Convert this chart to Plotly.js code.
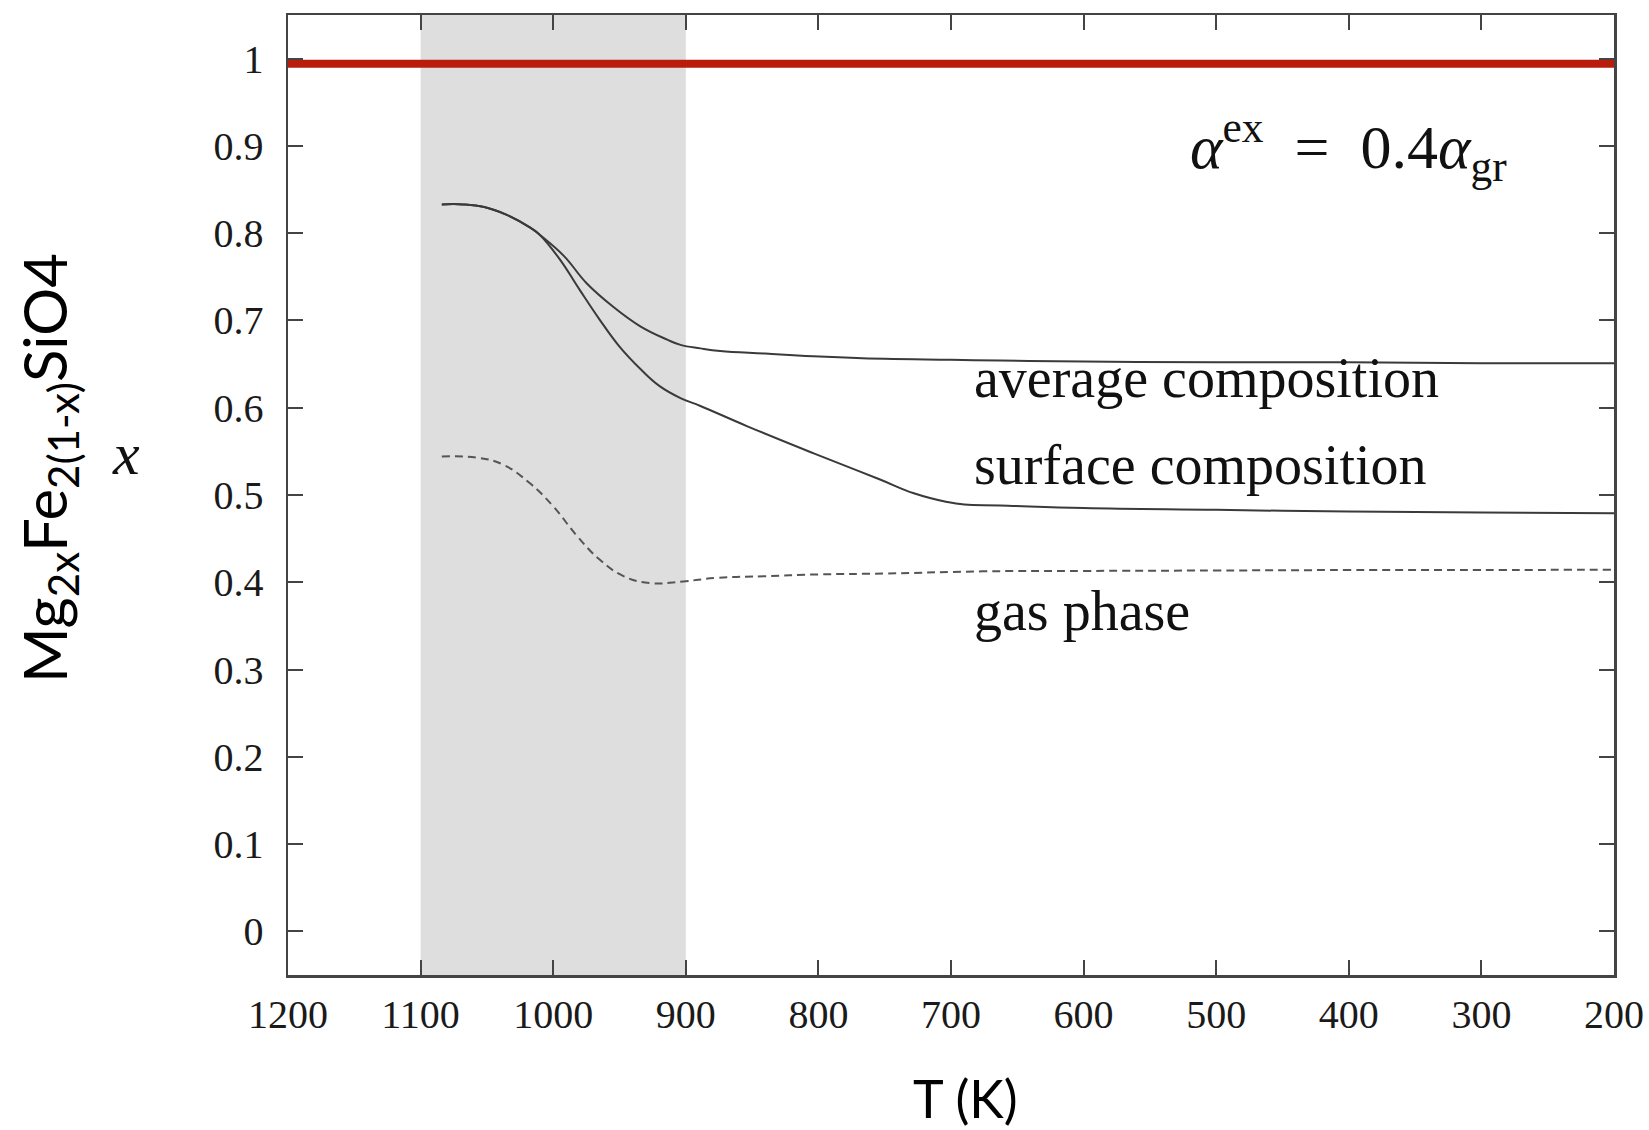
<!DOCTYPE html>
<html>
<head>
<meta charset="utf-8">
<script src="https://cdn.plot.ly/plotly-3.0.1.min.js"></script>
<style>
  html, body { margin: 0; padding: 0; background: #ffffff; }
  #chart { width: 1649px; height: 1130px; }
</style>
</head>
<body>
<div id="chart"></div>
<script>
// ---- data ----
const tAverage = [1084, 1068, 1052, 1035, 1017, 1010, 992, 975, 955, 934, 914, 904, 889, 874, 840, 804, 750, 700, 663, 600, 500, 400, 300, 200];
const xAverage = [0.833, 0.833, 0.830, 0.821, 0.806, 0.798, 0.774, 0.743, 0.716, 0.693, 0.678, 0.672, 0.668, 0.665, 0.662, 0.659, 0.656, 0.655, 0.654, 0.653, 0.652, 0.652, 0.651, 0.651];

const tSurface = [1084, 1068, 1052, 1035, 1017, 1010, 995, 980, 965, 950, 934, 920, 904, 889, 854, 804, 754, 728, 703, 690, 663, 600, 500, 400, 300, 200];
const xSurface = [0.833, 0.833, 0.830, 0.821, 0.806, 0.798, 0.770, 0.735, 0.701, 0.670, 0.644, 0.625, 0.611, 0.602, 0.579, 0.548, 0.518, 0.502, 0.492, 0.489, 0.488, 0.485, 0.483, 0.481, 0.480, 0.479];

const tGas = [1084, 1058, 1038, 1018, 1000, 982, 965, 947, 927, 902, 877, 840, 800, 750, 676, 600, 500, 400, 300, 200];
const xGas = [0.544, 0.543, 0.535, 0.514, 0.487, 0.453, 0.426, 0.407, 0.399, 0.401, 0.405, 0.407, 0.409, 0.410, 0.4125, 0.413, 0.4135, 0.414, 0.414, 0.4145];

const tRefLine = [1200, 200];
const xRefLine = [0.994, 0.994];

const shadeRange = [1100, 900];

const xTickVals = [1200, 1100, 1000, 900, 800, 700, 600, 500, 400, 300, 200];
const xTickText = ["1200", "1100", "1000", "900", "800", "700", "600", "500", "400", "300", "200"];
const yTickVals = [0, 0.1, 0.2, 0.3, 0.4, 0.5, 0.6, 0.7, 0.8, 0.9, 1];
const yTickText = ["0", "0.1", "0.2", "0.3", "0.4", "0.5", "0.6", "0.7", "0.8", "0.9", "1"];

const curveLabels = ["average composition", "surface composition", "gas phase"];
const curveLabelY = [0.634, 0.534, 0.367];
const curveLabelT = 684;

// ---- traces ----
const smoothLine = (color, dash) => ({ color: color, width: 2, dash: dash, shape: "spline", smoothing: 1.2 });
const traces = [
  { x: tRefLine, y: xRefLine, mode: "lines", line: { color: "#b71c0c", width: 8 }, hoverinfo: "skip" },
  { x: tAverage, y: xAverage, mode: "lines", line: smoothLine("#3a3a3a", "solid"), name: "average composition" },
  { x: tSurface, y: xSurface, mode: "lines", line: smoothLine("#3a3a3a", "solid"), name: "surface composition" },
  { x: tGas, y: xGas, mode: "lines", line: smoothLine("#555555", "8px,5px"), name: "gas phase" }
];

const serif = "Liberation Serif, Times New Roman, serif";
const sans = "Lato, Open Sans, sans-serif";

const axisCommon = {
  showline: true, linecolor: "#444", linewidth: 2.5, mirror: "ticks",
  ticks: "inside", ticklen: 15, tickwidth: 2, tickcolor: "#444",
  showgrid: false, zeroline: false,
  tickfont: { family: serif, size: 40, color: "#1a1a1a" }
};

const annotations = curveLabels.map((txt, i) => ({
  x: curveLabelT, y: curveLabelY[i], xref: "x", yref: "y",
  text: txt, showarrow: false, xanchor: "left", yanchor: "middle",
  font: { family: serif, size: 56, color: "#111" }
}));

annotations.push({
  x: 521, y: 0.899, xref: "x", yref: "y",
  text: "<i>α</i><sup>ex</sup>  =  0.4<i>α</i><sub>gr</sub>",
  showarrow: false, xanchor: "left", yanchor: "middle",
  font: { family: serif, size: 62, color: "#111" }
});
annotations.push({
  x: -0.181, y: 0.528, xref: "paper", yref: "paper",
  text: "Mg<sub>2x</sub>Fe<sub>2(1-x)</sub>SiO4",
  textangle: -90, showarrow: false, xanchor: "center", yanchor: "middle",
  font: { family: sans, size: 60, color: "#000" }
});
annotations.push({
  x: -0.122, y: 0.543, xref: "paper", yref: "paper",
  text: "<i>x</i>", showarrow: false, xanchor: "center", yanchor: "middle",
  font: { family: serif, size: 60, color: "#111" }
});
annotations.push({
  x: 0.5106, y: -0.128, xref: "paper", yref: "paper",
  text: "T (K)", showarrow: false, xanchor: "center", yanchor: "middle",
  font: { family: sans, size: 52, color: "#000" }
});

const layout = {
  width: 1649, height: 1130,
  margin: { l: 288, r: 35, t: 15, b: 155 },
  paper_bgcolor: "#ffffff", plot_bgcolor: "#ffffff",
  showlegend: false,
  xaxis: Object.assign({}, axisCommon, {
    range: [1200, 200], tickmode: "array", tickvals: xTickVals, ticktext: xTickText,
    ticklabelstandoff: 2
  }),
  yaxis: Object.assign({}, axisCommon, {
    range: [-0.05, 1.05], tickmode: "array", tickvals: yTickVals, ticktext: yTickText,
    ticklabelstandoff: 14
  }),
  shapes: [{
    type: "rect", xref: "x", yref: "paper",
    x0: shadeRange[0], x1: shadeRange[1], y0: 0, y1: 1,
    fillcolor: "#dedede", line: { width: 0 }, layer: "below"
  }],
  annotations: annotations
};

Plotly.newPlot("chart", traces, layout, { displayModeBar: false, staticPlot: true });
</script>
</body>
</html>
